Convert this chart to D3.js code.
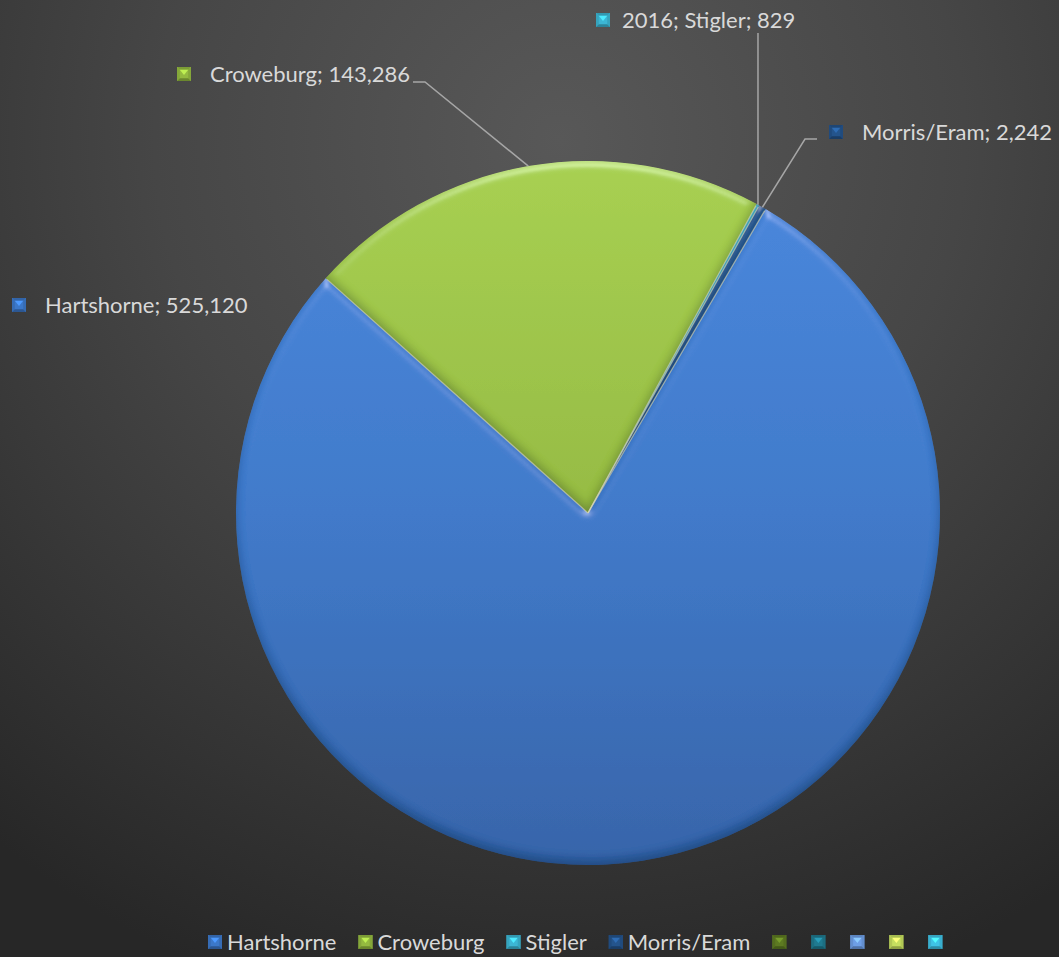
<!DOCTYPE html>
<html>
<head>
<meta charset="utf-8">
<script src="https://cdn.jsdelivr.net/npm/d3@7/dist/d3.min.js"></script>
<style>
  html, body { margin: 0; padding: 0; background: #333; }
  svg { display: block; }
  text { font-family: Lato, "Open Sans", sans-serif; }
</style>
</head>
<body>
<svg id="chart" width="1059" height="957"></svg>
<script>
// ---- data ----
const seriesName = "2016";
const categories = ["Hartshorne", "Croweburg", "Stigler", "Morris/Eram"];
const values = [525120, 143286, 829, 2242];
const showSeriesName = [false, false, true, false];
const sliceColors = ["#3c78c9", "#94ba40", "#3cb6d4", "#24548c"];
const sliceTop = ["#4686dc", "#a6cf4e", "#4cc4e0", "#2c62a0"];
const sliceBottom = ["#3262a8", "#7f9e34", "#2e96b0", "#1c4676"];
// extra legend entries (blank names) present in the original legend
const legendExtraNames = ["", "", "", "", ""];
const legendExtraColors = ["#5d7a22", "#1f7a90", "#6e9fe6", "#c6df5f", "#3fc3e6"];
// label positions: [marker x, text x, baseline y]
const labelPos = [[12, 45, 313], [177, 210, 82], [596, 622, 28], [829, 862, 140]];

const W = 1059, H = 957;
const cx = 588, cy = 513, R = 352;
const startDeg = 30.3;

const svg = d3.select("#chart");
const defs = svg.append("defs");

// background
const bg = defs.append("radialGradient").attr("id", "bg")
  .attr("gradientUnits", "userSpaceOnUse")
  .attr("cx", 560).attr("cy", 140).attr("r", 900);
bg.append("stop").attr("offset", "0").attr("stop-color", "#585858");
bg.append("stop").attr("offset", "0.45").attr("stop-color", "#464646");
bg.append("stop").attr("offset", "1").attr("stop-color", "#272727");
svg.append("rect").attr("width", W).attr("height", H).attr("fill", "url(#bg)");

// slice gradients (coordinates relative to pie centre)
categories.forEach((c, i) => {
  const g = defs.append("linearGradient").attr("id", "sg" + i)
    .attr("gradientUnits", "userSpaceOnUse")
    .attr("x1", 0).attr("y1", -R).attr("x2", 0).attr("y2", R);
  g.append("stop").attr("offset", "0").attr("stop-color", sliceTop[i]);
  g.append("stop").attr("offset", "0.5").attr("stop-color", sliceColors[i]);
  g.append("stop").attr("offset", "1").attr("stop-color", sliceBottom[i]);
});

// bevel filter
const f = defs.append("filter").attr("id", "bevel")
  .attr("x", "-10%").attr("y", "-10%").attr("width", "120%").attr("height", "120%");
f.append("feGaussianBlur").attr("in", "SourceAlpha").attr("stdDeviation", 4).attr("result", "blur");
const spec = f.append("feSpecularLighting").attr("in", "blur").attr("surfaceScale", 4)
  .attr("specularConstant", 0.55).attr("specularExponent", 28)
  .attr("lighting-color", "#ffffff").attr("result", "spec");
spec.append("feDistantLight").attr("azimuth", 270).attr("elevation", 35);
f.append("feComposite").attr("in", "spec").attr("in2", "SourceAlpha").attr("operator", "in").attr("result", "specIn");
f.append("feOffset").attr("in", "blur").attr("dx", 0).attr("dy", -5).attr("result", "offB");
f.append("feComposite").attr("in", "SourceAlpha").attr("in2", "offB").attr("operator", "arithmetic")
  .attr("k2", 1).attr("k3", -1).attr("result", "edgeB");
f.append("feFlood").attr("flood-color", "#0a1a30").attr("flood-opacity", 0.45);
f.append("feComposite").attr("in2", "edgeB").attr("operator", "in").attr("result", "shade");
f.append("feComposite").attr("in", "SourceGraphic").attr("in2", "specIn").attr("operator", "arithmetic")
  .attr("k2", 1).attr("k3", 0.4).attr("result", "lit");
const m = f.append("feMerge");
m.append("feMergeNode").attr("in", "lit");
m.append("feMergeNode").attr("in", "shade");

// pie
const data = categories.map((c, i) => ({ name: c, value: values[i], i }));
const pie = d3.pie().value(d => d.value).sort(null)
  .startAngle(startDeg * Math.PI / 180)
  .endAngle(startDeg * Math.PI / 180 + 2 * Math.PI);
const arcs = pie(data);
const arc = d3.arc().innerRadius(0).outerRadius(R);

const gPie = svg.append("g").attr("transform", `translate(${cx},${cy})`);
gPie.selectAll("path.slice").data(arcs).enter().append("path")
  .attr("class", "slice")
  .attr("d", arc)
  .attr("fill", d => `url(#sg${d.data.i})`)
  .attr("filter", "url(#bevel)");
// light separators along slice boundaries
gPie.selectAll("line.sep").data(arcs).enter().append("line")
  .attr("class", "sep")
  .attr("x1", 0).attr("y1", 0)
  .attr("x2", d => R * Math.sin(d.startAngle) * 0.995)
  .attr("y2", d => -R * Math.cos(d.startAngle) * 0.995)
  .attr("stroke", "rgba(215,215,185,0.65)")
  .attr("stroke-width", 1.2);

// markers (beveled squares)
function marker(g, x, y, s, color) {
  const base = d3.color(color);
  const light = base.brighter(0.7).formatHex();
  const mg = g.append("g").attr("transform", `translate(${x},${y})`);
  mg.append("rect").attr("width", s).attr("height", s).attr("fill", color);
  const c = s / 2, b = s * 0.2;
  mg.append("path").attr("d", `M0,0L${s},0L${s - b},${b}L${b},${b}Z`).attr("fill", base.darker(0.5).formatHex());
  mg.append("path").attr("d", `M${b},${b}L${s - b},${b}L${c},${c + 1}Z`).attr("fill", light);
  mg.append("path").attr("d", `M0,0L${b},${b}L${b},${s - b}L0,${s}Z`).attr("fill", base.darker(0.3).formatHex());
  mg.append("path").attr("d", `M${s},0L${s - b},${b}L${s - b},${s - b}L${s},${s}Z`).attr("fill", base.darker(0.3).formatHex());
  mg.append("path").attr("d", `M0,${s}L${b},${s - b}L${s - b},${s - b}L${s},${s}Z`).attr("fill", base.darker(0.9).formatHex());
}

// data labels
const labelG = svg.append("g");
const fmt = d3.format(",");
arcs.forEach(a => {
  const i = a.data.i;
  const [mx, tx, by] = labelPos[i];
  const text = (showSeriesName[i] ? seriesName + "; " : "") + a.data.name + "; " + fmt(a.data.value);
  marker(labelG, mx, by - 15, 14, sliceColors[i]);
  labelG.append("text").attr("x", tx).attr("y", by)
    .attr("font-size", 22).attr("fill", "#d9d9d9").text(text);
});

// leader lines
const leader = svg.append("g").attr("fill", "none").attr("stroke", "#a6a6a6").attr("stroke-width", 1.5);
function edgePoint(a) {
  const mid = (a.startAngle + a.endAngle) / 2;
  return [cx + R * Math.sin(mid), cy - R * Math.cos(mid)];
}
leader.append("path").attr("d", d3.line()([[413, 82], [425, 82], edgePoint(arcs[1])]));
{
  const p = edgePoint(arcs[2]);
  leader.append("path").attr("d", d3.line()([[p[0], 33], p]));
}
leader.append("path").attr("d", d3.line()([[817, 139], [805, 139], edgePoint(arcs[3])]));

// legend
const legendNames = categories.concat(legendExtraNames);
const legendColors = sliceColors.concat(legendExtraColors);
const lg = svg.append("g");
let lx = 208;
const ly = 950;
legendNames.forEach((n, i) => {
  marker(lg, lx, ly - 15, 14, legendColors[i]);
  if (n) {
    const t = lg.append("text").attr("x", lx + 19).attr("y", ly)
      .attr("font-size", 22).attr("fill", "#d9d9d9").text(n);
    lx += 19 + t.node().getComputedTextLength() + 22;
  } else {
    lx += 39;
  }
});
</script>
</body>
</html>
